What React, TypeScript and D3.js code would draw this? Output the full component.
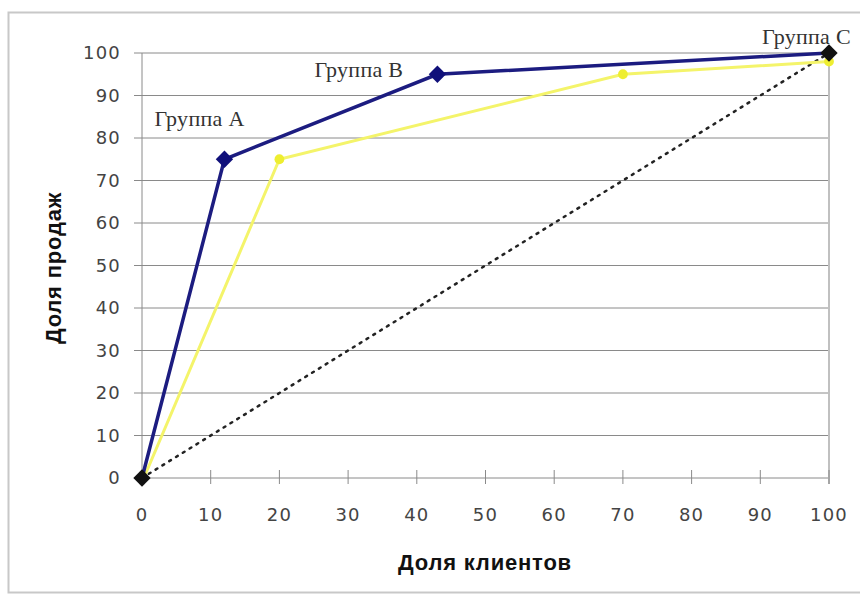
import React from "react";
import * as d3 from "d3";

const xTicks = [0, 10, 20, 30, 40, 50, 60, 70, 80, 90, 100];
const yTicks = [0, 10, 20, 30, 40, 50, 60, 70, 80, 90, 100];
const groupX = [0, 12, 43, 100];
const groupY = [0, 75, 95, 100];
const yellowX = [0, 20, 70, 100];
const yellowY = [-1, 75, 95, 98];
const diagX = [0, 100];
const diagY = [0, 100];
const labels = ["Группа A", "Группа B", "Группа C"];
const xTitle = "Доля клиентов";
const yTitle = "Доля продаж";

export default function App() {
  const W = 860, H = 595;
  const x = d3.scaleLinear().domain([0, 100]).range([142, 829]);
  const y = d3.scaleLinear().domain([0, 100]).range([478, 53]);
  const line = d3.line<[number, number]>().x(d => x(d[0])).y(d => y(d[1]));
  const navy = groupX.map((v, i) => [v, groupY[i]] as [number, number]);
  const yel = yellowX.map((v, i) => [v, yellowY[i]] as [number, number]);
  const diag = diagX.map((v, i) => [v, diagY[i]] as [number, number]);
  const diamond = d3.symbol().type(d3.symbolSquare).size(150)();
  const circ = d3.symbol().type(d3.symbolCircle).size(75)();
  const labelPos = [
    { i: 1, dx: -70, dy: -33 },
    { i: 2, dx: -123, dy: 3 },
    { i: 3, dx: -67, dy: -9 },
  ];
  return (
    <svg width={W} height={H} style={{ position: "absolute", left: 0, top: 0, background: "#fff" }}>
      <rect x={8.5} y={12.5} width={860} height={580} fill="#fff" stroke="#c8c8c8" strokeWidth={2} />
      {yTicks.map(t => (
        <line key={t} x1={134} x2={829} y1={y(t)} y2={y(t)} stroke="#8a8a8a" strokeWidth={1} />
      ))}
      <line x1={142} x2={142} y1={53} y2={478} stroke="#8a8a8a" />
      <line x1={829} x2={829} y1={53} y2={484} stroke="#c0c0c0" strokeWidth={2} />
      {xTicks.map(t => (
        <line key={t} x1={x(t)} x2={x(t)} y1={470} y2={484} stroke="#8a8a8a" />
      ))}
      {yTicks.map(t => (
        <text key={t} x={121} y={y(t)} dy="0.36em" textAnchor="end" fontFamily="DejaVu Sans, sans-serif" fontSize={18} letterSpacing={1.2} fill="#444">{t}</text>
      ))}
      {xTicks.map(t => (
        <text key={t} x={x(t)} y={515} dy="0.36em" textAnchor="middle" fontFamily="DejaVu Sans, sans-serif" fontSize={18} letterSpacing={1.2} fill="#444">{t}</text>
      ))}
      <text x={485} y={570} textAnchor="middle" fontFamily="Liberation Sans, Arial, sans-serif" fontWeight="bold" fontSize={22} letterSpacing={0.8} fill="#111">{xTitle}</text>
      <text transform={`translate(61,268) rotate(-90)`} textAnchor="middle" fontFamily="Liberation Sans, Arial, sans-serif" fontWeight="bold" fontSize={22} letterSpacing={0.8} fill="#111">{yTitle}</text>
      <path d={line(diag) || ""} fill="none" stroke="#222" strokeWidth={2.5} strokeDasharray="2,6" strokeLinecap="round" />
      <path d={line(yel) || ""} fill="none" stroke="#f4f46a" strokeWidth={3} />
      {yel.slice(1).map((d, i) => (
        <path key={i} d={circ || ""} transform={`translate(${x(d[0])},${y(d[1])})`} fill="#eeee30" />
      ))}
      <path d={line(navy) || ""} fill="none" stroke="#1c1c80" strokeWidth={3.5} />
      {navy.map((d, i) => (
        <path key={i} d={diamond || ""} transform={`translate(${x(d[0])},${y(d[1])}) rotate(45)`} fill={i === 0 || i === 3 ? "#111" : "#10107a"} />
      ))}
      {labelPos.map((p, k) => (
        <text key={k} x={x(navy[p.i][0]) + p.dx} y={y(navy[p.i][1]) + p.dy} fontFamily="Liberation Serif, Times New Roman, serif" fontSize={22} letterSpacing={0.3} fill="#333">{labels[k]}</text>
      ))}
    </svg>
  );
}
